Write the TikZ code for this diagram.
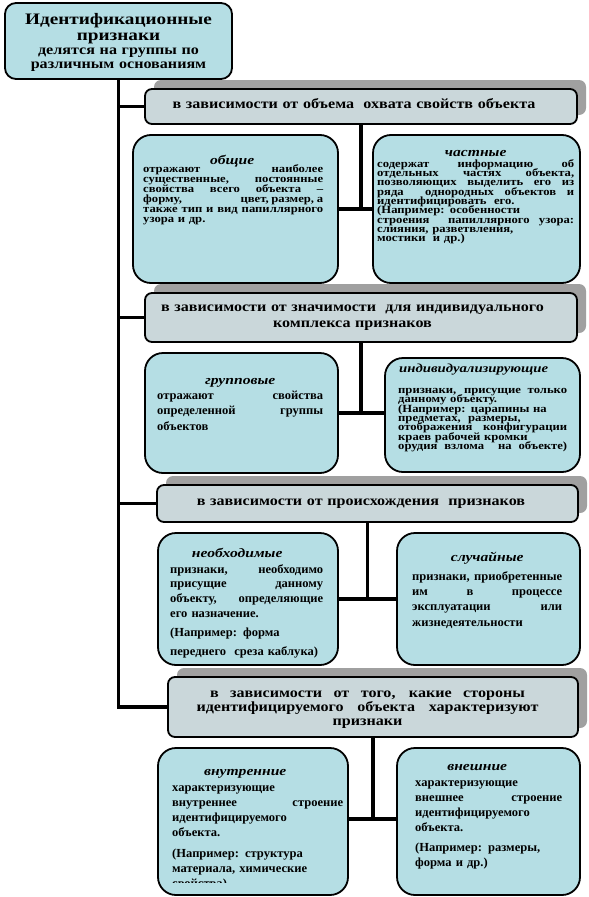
\documentclass[tikz,border=0pt]{standalone}
\usepackage{fontspec}
\setmainfont{Liberation Serif}
\newfontfamily\sq[FakeStretch=1.2]{Liberation Serif}
\newfontfamily\sqa[FakeStretch=1.15]{Liberation Serif}
\newfontfamily\sqb[FakeStretch=1.02]{Liberation Serif}
\usetikzlibrary{shadows,fit}
\definecolor{boxfill}{HTML}{B5DEE4}
\definecolor{hdrfill}{HTML}{CAD7DA}
\definecolor{shadowc}{HTML}{A0A0A0}
\setlength\parindent{0pt}
\newcommand\SP[2]{\makebox[#1][s]{\spaceskip=.25em plus 1fil\relax #2}}
\newcommand\JL[1]{\SP{\hsize}{#1}}
\newcommand\PL[1]{\mbox{#1}}
\newcommand\topst{\vrule height 12pt depth 0pt width 0pt}
\newcommand\subst{\vrule height 10pt depth 0pt width 0pt}
\newcommand\bodyA[1]{\sqa\bfseries\fontsize{11}{#1}\selectfont\lineskiplimit=-30pt\relax\parindent=0pt\relax}
\newcommand\bodyB[1]{\sqb\bfseries\fontsize{12.3}{#1}\selectfont\lineskiplimit=-30pt\relax\parindent=0pt\relax}
\newcommand\hdrfont[1]{\sqa\bfseries\fontsize{14}{#1}\selectfont\lineskiplimit=-30pt\relax\parindent=0pt\relax}
\newcommand\ttlfont{\sq\bfseries\itshape\fontsize{13}{13}\selectfont}
\newcommand\TT[3][13]{\makebox[\hsize]{\hspace*{#2}{\ttlfont\fontsize{#1}{13}\selectfont #3}\hspace*{-#2}}}
\tikzset{
  rootbox/.style={draw, line width=1.8pt, rounded corners=11pt, fill=boxfill, inner sep=0pt},
  hdr/.style={draw, line width=1.8pt, rounded corners=7pt, fill=hdrfill, inner sep=0pt,
    drop shadow={shadow xshift=9pt, shadow yshift=9pt, fill=shadowc, opacity=1}},
  box/.style={draw, line width=1.8pt, rounded corners=18pt, fill=boxfill, inner sep=0pt},
  conn/.style={line width=3.2pt},
  txt/.style={inner sep=0pt, anchor=north west},
  ctxt/.style={inner sep=0pt, anchor=north, align=center},
}
\begin{document}
\begin{tikzpicture}[x=1pt,y=-1pt]
\useasboundingbox (0,0) rectangle (589,897);
% root
\node[rootbox, fit={(5,3) (232,79)}] (root) {};
\node[ctxt, text width=225pt, font={\sq\bfseries\fontsize{16}{15.5}\selectfont\lineskiplimit=-30pt\relax}] (rootT) at (118.5,12.5) {\topst Идентификационные\\признаки};
\node[ctxt, text width=225pt, font=\hdrfont{14}] (rootS) at (118.5,44) {\subst делятся на группы по\\различным основаниям};
% headers
\node[hdr, fit={(145,89) (577,124)}] (H1) {};
\node[hdr, fit={(145,293) (577,342)}] (H2) {};
\node[hdr, fit={(157,485) (578,522)}] (H3) {};
\node[hdr, fit={(168,677) (578,737)}] (H4) {};
\node[ctxt, text width=425pt, font=\hdrfont{14}] (H1t) at (354,96) {\topst в зависимости от объема\ \ охвата свойств объекта};
\node[ctxt, text width=425pt, font=\hdrfont{15.5}] (H2t) at (352.5,299.5) {\topst в зависимости от значимости\ \ для индивидуального\\комплекса признаков};
\node[ctxt, text width=415pt, font=\hdrfont{14}] (H3t) at (361,493) {\topst в зависимости от происхождения\ \ признаков};
\node[ctxt, text width=400pt, font=\hdrfont{14.3}] (H4t) at (367.5,685) {\topst\SP{315pt}{в зависимости от того, какие стороны}\\\SP{342pt}{идентифицируемого объекта характеризуют}\\признаки};
% boxes
\node[box, fit={(133,135) (338,283)}] (L1) {};
\node[box, fit={(373,135) (580,283)}] (R1) {};
\node[box, fit={(145,353) (338,473)}] (L2) {};
\node[box, fit={(385,358) (580,472)}] (R2) {};
\node[box, fit={(158,533) (338,665)}] (L3) {};
\node[box, fit={(397,533) (580,665)}] (R3) {};
\node[box, fit={(158,748) (348,895)}] (L4) {};
\node[box, fit={(397,748) (580,895)}] (R4) {};
% box texts
\node[txt, text width=180pt, font=\bodyA{10}] (L1b) at (143,152) {\topst\TT{-1pt}{общие}\\[-1.3pt]\JL{отражают наиболее}\\\JL{существенные, постоянные}\\\JL{свойства всего объекта –}\\\JL{форму,\hfill цвет, размер, а}\\\JL{также тип и вид папиллярного}\\\PL{узора и др.}};
\node[txt, text width=197pt, font=\bodyA{9.3}] (R1b) at (377,144.5) {\topst\TT{0pt}{частные}\\[1.2pt]\JL{содержат информацию об}\\\JL{отдельных частях объекта,}\\\JL{позволяющих выделить его из}\\\JL{ряда\ \ однородных объектов и}\\\PL{идентифицировать\ \ его.}\\\PL{(Например: особенности}\\\JL{строения\ \ папиллярного узора:}\\\PL{слияния, разветвления,}\\\PL{мостики\ \ и др.)}};
\node[txt, text width=166pt, font=\bodyB{15.5}] (L2b) at (157,372.5) {\topst\TT{0pt}{групповые}\\[-1pt]\JL{отражают свойства}\\\JL{определенной группы}\\\PL{объектов}};
\node[txt, text width=169pt, font=\bodyA{9.4}] (R2b) at (398,360) {\topst\TT[12.3]{-9pt}{индивидуализирующие}\\[11.6pt]\JL{признаки, присущие только}\\\PL{данному объекту.}\\\PL{(Например: царапины на}\\\PL{предметах,\ \ размеры,}\\\JL{отображения конфигурации}\\\PL{краев рабочей кромки}\\\JL{орудия взлома\ \ на объекте)}};
\node[txt, text width=153pt, font=\bodyB{14.7}] (L3b) at (170,545) {\topst\TT{-9.5pt}{необходимые}\\[1.3pt]\JL{признаки, необходимо}\\\JL{присущие данному}\\\JL{объекту, определяющие}\\\PL{его назначение.}\\[4.8pt]\PL{(Например: форма}\\[3.8pt]\PL{переднего\ \ среза каблука)}};
\node[txt, text width=150pt, font=\bodyB{15.3}] (R3b) at (412,549) {\topst\TT{0pt}{случайные}\\[3.7pt]\JL{признаки, приобретенные}\\\JL{им в процессе}\\\JL{эксплуатации или}\\\PL{жизнедеятельности}};
\begin{scope}
\clip (150,740) rectangle (360,882.5);
\node[txt, text width=171pt, font=\bodyB{15}] (L4b) at (172,763) {\topst\TT{-12.5pt}{внутренние}\\[1.5pt]\PL{характеризующие}\\\JL{внутреннее строение}\\\PL{идентифицируемого}\\\PL{объекта.}\\[5.5pt]\PL{(Например: структура}\\\PL{материала, химические}\\\PL{свойства)}};
\end{scope}
\node[txt, text width=147pt, font=\bodyB{15}] (R4b) at (415,758) {\topst\TT{-11.5pt}{внешние}\\[1.5pt]\PL{характеризующие}\\\JL{внешнее строение}\\\PL{идентифицируемого}\\\PL{объекта.}\\[5pt]\PL{(Например: размеры,}\\\PL{форма и др.)}};
% connectors
\coordinate (j4) at (373,819);
\draw[conn] (root.south) |- (H4.west);
\draw[conn] (root.south |- H1.west) -- (H1.west);
\draw[conn] (root.south |- H2.west) -- (H2.west);
\draw[conn] (root.south |- H3.west) -- (H3.west);
\draw[conn] (H1.south) -- (H1.south |- L1.east);
\draw[conn] (L1.east) -- (R1.west);
\draw[conn] (H2.south) -- (H2.south |- L2.east);
\draw[conn] (L2.east) -- (L2.east -| R2.west);
\draw[conn] (H3.south) -- (H3.south |- L3.east);
\draw[conn] (L3.east) -- (R3.west);
\draw[conn] (H4.south) -- (j4);
\draw[conn] (L4.east |- j4) -- (R4.west |- j4);
\end{tikzpicture}
\end{document}
